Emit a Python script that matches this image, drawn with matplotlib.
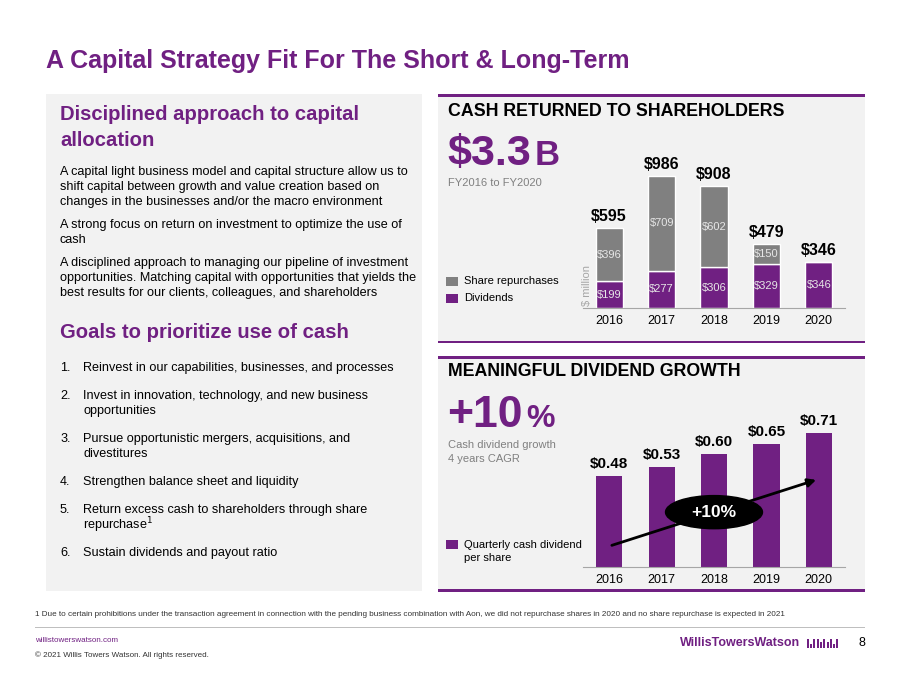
import matplotlib
matplotlib.use("Agg")
import matplotlib.pyplot as plt
from matplotlib.patches import Rectangle, Ellipse

plt.rcParams['font.family'] = ['Liberation Sans', 'DejaVu Sans']

# data
years = ["2016", "2017", "2018", "2019", "2020"]
dividends = [199, 277, 306, 329, 346]
repurchases = [396, 709, 602, 150, 0]
totals = [595, 986, 908, 479, 346]
dps = [0.48, 0.53, 0.60, 0.65, 0.71]

left_paras = [
    ["A capital light business model and capital structure allow us to",
     "shift capital between growth and value creation based on",
     "changes in the businesses and/or the macro environment"],
    ["A strong focus on return on investment to optimize the use of",
     "cash"],
    ["A disciplined approach to managing our pipeline of investment",
     "opportunities. Matching capital with opportunities that yields the",
     "best results for our clients, colleagues, and shareholders"],
]
goals = [
    ["Reinvest in our capabilities, businesses, and processes"],
    ["Invest in innovation, technology, and new business", "opportunities"],
    ["Pursue opportunistic mergers, acquisitions, and", "divestitures"],
    ["Strengthen balance sheet and liquidity"],
    ["Return excess cash to shareholders through share", "repurchase$^1$"],
    ["Sustain dividends and payout ratio"],
]

PURPLE = "#702082"
GREY = "#808080"
PANEL = "#f2f2f2"
W, H = 911, 683

fig = plt.figure(figsize=(W / 100, H / 100), dpi=100)


def fx(x):
    return x / W


def fy(y):
    return 1 - y / H


def txt(x, y, s, **kw):
    kw.setdefault("va", "center")
    fig.text(fx(x), fy(y), s, **kw)


def box(x0, y0, x1, y1, color, z=-1):
    fig.patches.append(Rectangle((fx(x0), fy(y1)), fx(x1) - fx(x0), fy(y0) - fy(y1),
                                 transform=fig.transFigure, color=color, lw=0, zorder=z))


# title
txt(46, 61, "A Capital Strategy Fit For The Short & Long-Term", fontsize=18,
    fontweight="bold", color=PURPLE)

# left panel
box(46, 94, 422, 591, PANEL, -2)
txt(60, 115, "Disciplined approach to capital", fontsize=14.6, fontweight="bold", color=PURPLE)
txt(60, 140, "allocation", fontsize=14.6, fontweight="bold", color=PURPLE)
y = 172
for para in left_paras:
    for line in para:
        txt(60, y, line, fontsize=9.1, color="black")
        y += 15
    y += 8
txt(60, 333, "Goals to prioritize use of cash", fontsize=14.6, fontweight="bold", color=PURPLE)
y = 368
for i, g in enumerate(goals):
    txt(60, y, f"{i + 1}.", fontsize=9.1, color="black")
    for line in g:
        txt(83, y, line, fontsize=9.1, color="black")
        y += 15
    y += 13

# right panels
box(438, 94, 865, 343, PANEL, -2)
box(438, 357, 865, 591, PANEL, -2)
for yy in [95, 342, 358, 590]:
    box(438, yy - 1.5, 865, yy + 1.5, PURPLE)

# cash returned
txt(448, 111, "CASH RETURNED TO SHAREHOLDERS", fontsize=12.8, fontweight="bold", color="black")
txt(447, 165, "$3.3", fontsize=31, fontweight="bold", color=PURPLE, va="baseline")
txt(535, 165, "B", fontsize=25, fontweight="bold", color=PURPLE, va="baseline")
txt(448, 183, "FY2016 to FY2020", fontsize=8, color=GREY)

box(446, 277, 458, 286, GREY)
txt(464, 281, "Share repurchases", fontsize=8, color="black")
box(446, 294, 458, 303, PURPLE)
txt(464, 298, "Dividends", fontsize=8, color="black")

ax1 = fig.add_axes([fx(583), fy(308), fx(845) - fx(583), fy(150) - fy(308)])
ax1.patch.set_alpha(0)
xs = range(len(years))
ax1.bar(xs, dividends, width=0.52, color=PURPLE, edgecolor="white", linewidth=1)
ax1.bar(xs, repurchases, width=0.52, bottom=dividends, color=GREY, edgecolor="white", linewidth=1)
for i in xs:
    ax1.text(i, dividends[i] / 2, f"${dividends[i]}", ha="center", va="center",
             fontsize=8, color="#e6e6e6")
    if repurchases[i] > 0:
        ax1.text(i, dividends[i] + repurchases[i] / 2,
                 f"${repurchases[i]}", ha="center", va="center", fontsize=8, color="#e6e6e6")
    ax1.text(i, totals[i] + 30, f"${totals[i]}", ha="center", va="bottom",
             fontsize=11.5, fontweight="bold", color="black")
ax1.set_xlim(-0.5, 4.5)
ax1.set_ylim(0, 1180)
ax1.set_yticks([])
ax1.set_xticks(list(xs))
ax1.set_xticklabels(years, fontsize=9)
ax1.tick_params(axis="x", length=0, pad=5)
for s in ["top", "right", "left"]:
    ax1.spines[s].set_visible(False)
ax1.spines["bottom"].set_color("#a6a6a6")
txt(587, 286, "$ million", fontsize=8, color="#a6a6a6", rotation=90, ha="center")

# dividend growth
txt(448, 372, "MEANINGFUL DIVIDEND GROWTH", fontsize=12.8, fontweight="bold", color="black")
txt(447, 427, "+10", fontsize=32, fontweight="bold", color=PURPLE, va="baseline")
txt(526, 427, "%", fontsize=23, fontweight="bold", color=PURPLE, va="baseline")
txt(448, 445, "Cash dividend growth", fontsize=8, color=GREY)
txt(448, 459, "4 years CAGR", fontsize=8, color=GREY)

box(446, 540, 458, 549, PURPLE)
txt(464, 545, "Quarterly cash dividend", fontsize=8, color="black")
txt(464, 558, "per share", fontsize=8, color="black")

ax2 = fig.add_axes([fx(583), fy(567), fx(845) - fx(583), fy(410) - fy(567)])
ax2.patch.set_alpha(0)
ax2.bar(xs, dps, width=0.5, color=PURPLE)
for i in xs:
    ax2.text(i, dps[i] + 0.025, f"${dps[i]:.2f}", ha="center", va="bottom",
             fontsize=11, fontweight="bold", color="black")
ax2.annotate("", xy=(4.0, 0.465), xytext=(0.0, 0.11),
             arrowprops=dict(arrowstyle="-|>", color="black", lw=2, mutation_scale=12))
ax2.add_patch(Ellipse((2.0, 0.29), 1.85, 0.175, color="black", zorder=5))
ax2.text(2.0, 0.29, "+10%", ha="center", va="center", fontsize=12.5,
         fontweight="bold", color="white", zorder=6)
ax2.set_xlim(-0.5, 4.5)
ax2.set_ylim(0, 0.83)
ax2.set_yticks([])
ax2.set_xticks(list(xs))
ax2.set_xticklabels(years, fontsize=9)
ax2.tick_params(axis="x", length=0, pad=5)
for s in ["top", "right", "left"]:
    ax2.spines[s].set_visible(False)
ax2.spines["bottom"].set_color("#a6a6a6")

# footer
txt(35, 615, "1 Due to certain prohibitions under the transaction agreement in connection with the pending "
    "business combination with Aon, we did not repurchase shares in 2020 and no share repurchase is expected in 2021",
    fontsize=5.9, color="#333333")
box(35, 626.5, 865, 627.5, "#bfbfbf")
txt(35, 640, "willistowerswatson.com", fontsize=5.8, color=PURPLE)
txt(35, 655, "\u00a9 2021 Willis Towers Watson. All rights reserved.", fontsize=5.8, color="#333333")
txt(800, 643, "WillisTowersWatson", fontsize=9, fontweight="bold", color=PURPLE, ha="right")
for x0, h in [(807, 9), (810, 4), (813, 9), (817, 9), (820, 6), (823, 9), (827, 6), (830, 9), (833, 4), (836, 9)]:
    box(x0, 648 - h, x0 + 2, 648, PURPLE)
txt(865, 643, "8", fontsize=9, color="black", ha="right")

fig.savefig("out.png", dpi=100)
